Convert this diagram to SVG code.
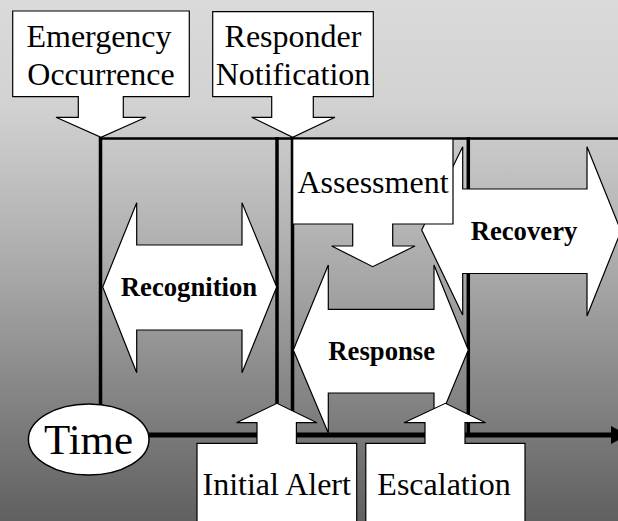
<svg xmlns="http://www.w3.org/2000/svg" width="618" height="521" viewBox="0 0 618 521">
<defs>
<linearGradient id="bg" x1="0" y1="0" x2="0" y2="1">
<stop offset="0" stop-color="#dadada"/>
<stop offset="0.2" stop-color="#d2d2d2"/>
<stop offset="0.5" stop-color="#acacac"/>
<stop offset="1" stop-color="#606060"/>
</linearGradient>
<style>
.shape{fill:#ffffff;stroke:#000000;stroke-width:1.2;stroke-linejoin:miter}
.vline{stroke:#000000;stroke-width:3.5;fill:none}
.lbl{font-family:"Liberation Serif","Times New Roman",serif;font-size:32px;fill:#000000;text-anchor:middle}
.bold{font-family:"Liberation Serif","Times New Roman",serif;font-size:26.7px;font-weight:bold;fill:#000000;text-anchor:middle}
</style>
</defs>
<rect x="0" y="0" width="618" height="521" fill="url(#bg)"/>
<g id="connectors">
<line class="vline" x1="100.5" y1="137" x2="100.5" y2="435"/>
<line class="vline" x1="277" y1="137" x2="277" y2="435"/>
<line class="vline" x1="292.5" y1="137" x2="292.5" y2="435"/>
<line class="vline" x1="468.3" y1="137" x2="468.3" y2="435"/>
<line x1="99" y1="138.5" x2="618" y2="138.5" stroke="#000" stroke-width="2.5"/>
<line x1="149" y1="435" x2="613" y2="435" stroke="#000" stroke-width="5"/>
<polygon points="611,426 628,435 611,444" fill="#000"/>
</g>
<g id="recovery">
<path class="shape" d="M421.7,230 L462.7,146.7 V189 H587 V146.7 L621,231 L587,316 V273.5 H462.7 V315 Z"/>
<text class="bold" x="524" y="240">Recovery</text>
</g>
<g id="assessment">
<path class="shape" d="M292.7,139 H453 V224 H392.7 V246 H415 L372.7,266.7 L331.7,246 H352.7 V224 H292.7 Z"/>
<text class="lbl" x="373" y="193.3">Assessment</text>
</g>
<g id="recognition">
<path class="shape" d="M102.7,287 L136.7,202.7 V245 H242 V202.7 L276.7,287 L242,372.7 V330 H136.7 V372.7 Z"/>
<text class="bold" x="189" y="296">Recognition</text>
</g>
<g id="response">
<path class="shape" d="M293.3,350 L328.3,265 V309.3 H434 V265 L468.3,350 L434,433 V393 H328.3 V433 Z"/>
<text class="bold" x="381.7" y="360">Response</text>
</g>
<g id="emergency-occurrence">
<path class="shape" d="M12.7,11 H189.3 V96.7 H123.3 V117.3 H146 L101,137.3 L56,117.3 H78.3 V96.7 H12.7 Z"/>
<text class="lbl" x="99" y="47">Emergency</text>
<text class="lbl" x="101" y="84.5">Occurrence</text>
</g>
<g id="responder-notification">
<path class="shape" d="M212.7,11.7 H373.3 V96.7 H313.3 V117.3 H335 L292.7,137.3 L251.7,117.3 H271.7 V96.7 H212.7 Z"/>
<text class="lbl" x="293" y="47">Responder</text>
<text class="lbl" x="293" y="84.5">Notification</text>
</g>
<g id="time">
<ellipse cx="88.7" cy="439.5" rx="60.3" ry="35.5" fill="#fff" stroke="#000" stroke-width="1.5"/>
<text class="lbl" x="88.5" y="454" style="font-size:43px">Time</text>
</g>
<g id="initial-alert">
<path class="shape" d="M197,443.3 H257 V422.7 H236.5 L277,403.3 L317,422.7 H296.4 V443.3 H356.7 V530 H197 Z"/>
<text class="lbl" x="276.7" y="494.5">Initial Alert</text>
</g>
<g id="escalation">
<path class="shape" d="M365.8,443.3 H425 V422.7 H404 L445.4,403.3 L485.6,422.7 H465 V443.3 H525 V530 H365.8 Z"/>
<text class="lbl" x="444" y="494.5">Escalation</text>
</g>
</svg>
